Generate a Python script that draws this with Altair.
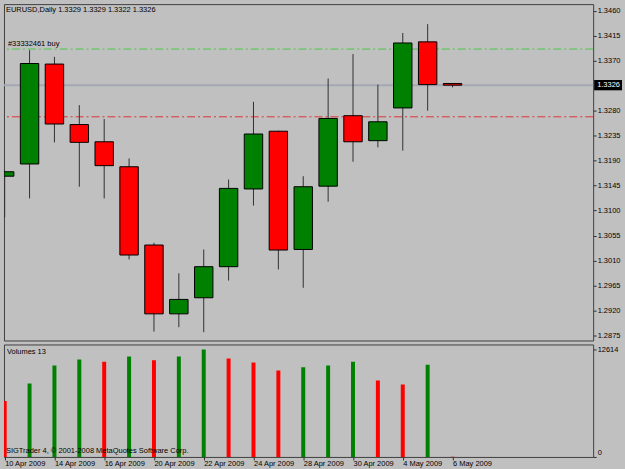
import json
import altair as alt
import pandas as pd

# ---- data ----
dates = ["10 Apr 2009", "13 Apr 2009", "14 Apr 2009", "15 Apr 2009", "16 Apr 2009",
         "17 Apr 2009", "20 Apr 2009", "21 Apr 2009", "22 Apr 2009", "23 Apr 2009",
         "24 Apr 2009", "27 Apr 2009", "28 Apr 2009", "29 Apr 2009", "30 Apr 2009",
         "1 May 2009", "4 May 2009", "5 May 2009", "6 May 2009"]
opens  = [1.3162, 1.3184, 1.3364, 1.3255, 1.3224, 1.3179, 1.3038, 1.2914, 1.2943, 1.2999,
          1.3139, 1.3243, 1.3030, 1.3144, 1.3271, 1.3226, 1.3285, 1.3404, 1.3329]
highs  = [1.3172, 1.3389, 1.3377, 1.3290, 1.3265, 1.3194, 1.3042, 1.2987, 1.3030, 1.3156,
          1.3296, 1.3244, 1.3162, 1.3338, 1.3382, 1.3327, 1.3420, 1.3436, 1.3329]
lows   = [1.3088, 1.3122, 1.3223, 1.3143, 1.3122, 1.3012, 1.2882, 1.2890, 1.2881, 1.2974,
          1.3109, 1.2994, 1.2961, 1.3116, 1.3188, 1.3214, 1.3208, 1.3280, 1.3322]
closes = [1.3170, 1.3365, 1.3256, 1.3223, 1.3181, 1.3020, 1.2914, 1.2940, 1.2999, 1.3140,
          1.3238, 1.3029, 1.3143, 1.3266, 1.3224, 1.3260, 1.3402, 1.3327, 1.3326]
volumes = [6570, 8610, 10730, 11440, 11165, 11790, 11355, 11790, 12614, 11555,
           11085, 10140, 10530, 10730, 11165, 8960, 8490, 10810, 13]

price_ticks = [1.2875, 1.2920, 1.2965, 1.3010, 1.3055, 1.3100, 1.3145, 1.3190,
               1.3235, 1.3280, 1.3370, 1.3415, 1.3460]
bid_price = 1.3326
buy_level = 1.3391
stop_level = 1.3269
title_text = "EURUSD,Daily  1.3329 1.3329 1.3322 1.3326"
order_text = "#33332461 buy"
copyright_text = "SIGTrader 4, © 2001-2008 MetaQuotes Software Corp."

FONT = "Liberation Sans"
FS = 7.5
GREEN = "#008000"
RED = "#FF0000"

rows = []
for i in range(len(dates)):
    rows.append({
        "idx": i, "date": dates[i], "open": opens[i], "high": highs[i],
        "low": lows[i], "close": closes[i], "volume": volumes[i],
        "up": closes[i] >= opens[i],
        "vol_up": i > 0 and volumes[i] > volumes[i - 1],
    })
df = pd.DataFrame(rows)

levels = pd.DataFrame({
    "price": [buy_level, stop_level, bid_price],
    "kind": ["buy", "stop", "bid"],
})

PANEL_W = 592
x_scale = alt.Scale(domain=[-0.028, -0.028 + PANEL_W / 25.0], nice=False, zero=False, clamp=True)
y_scale = alt.Scale(domain=[1.2866, 1.3472], nice=False, zero=False)

price_axis = alt.Axis(orient="right", values=price_ticks, format=".4f", title=None,
                      grid=False, domain=False, tickSize=3, tickColor="#303030",
                      labelPadding=1, labelFont=FONT, labelFontSize=FS,
                      labelColor="black", minExtent=29, maxExtent=29,
                      labelOverlap=False)


def PY(field):
    return alt.Y(field, scale=y_scale, axis=price_axis)


X = alt.X("idx:Q", scale=x_scale, axis=None)

base = alt.Chart(df)

buy_line = alt.Chart(levels).transform_filter(alt.datum.kind == "buy").mark_rule(
    color="#46C846", strokeWidth=1, strokeDash=[8, 3, 2, 3]
).encode(y=PY("price:Q"))
stop_line = alt.Chart(levels).transform_filter(alt.datum.kind == "stop").mark_rule(
    color="#E03232", strokeWidth=1, strokeDash=[8, 3, 2, 3]
).encode(y=PY("price:Q"))
bid_line = alt.Chart(levels).transform_filter(alt.datum.kind == "bid").mark_rule(
    color="#A4A8B2", strokeWidth=2
).encode(y=PY("price:Q"))

wicks = base.mark_rule(color="#303030", strokeWidth=1, clip=True).encode(
    x=X, y=PY("low:Q"), y2="high:Q",
)

bodies = base.transform_calculate(
    xl="datum.idx - 0.37", xr="datum.idx + 0.37"
).mark_rect(stroke="black", strokeWidth=1, clip=True).encode(
    x=alt.X("xl:Q", scale=x_scale, axis=None),
    x2="xr:Q",
    y=PY("open:Q"),
    y2="close:Q",
    fill=alt.condition(alt.datum.up, alt.value(GREEN), alt.value(RED)),
)

title_mark = alt.Chart(pd.DataFrame({"t": [title_text]})).mark_text(
    align="left", baseline="middle", font=FONT, fontSize=FS, color="black"
).encode(x=alt.value(2), y=alt.value(6), text="t:N")

order_label = alt.Chart(levels).transform_filter(alt.datum.kind == "buy").transform_calculate(
    t=f"'{order_text}'"
).mark_text(
    align="left", baseline="middle", dy=-5, font=FONT, fontSize=FS, color="black"
).encode(x=alt.value(4), y=PY("price:Q"), text="t:N")

bid_box = alt.Chart(levels).transform_filter(alt.datum.kind == "bid").mark_point(
    shape="M-1,-0.37L1,-0.37L1,0.37L-1,0.37Z", filled=True, fill="black",
    opacity=1, size=784, clip=False
).encode(x=alt.value(607), y=PY("price:Q"))

bid_text = alt.Chart(levels).transform_filter(alt.datum.kind == "bid").mark_text(
    align="left", baseline="middle", font=FONT, fontSize=FS, color="white"
).encode(x=alt.value(596), y=PY("price:Q"),
         text=alt.Text("price:Q", format=".4f"))

main = alt.layer(
    buy_line, stop_line, bid_line, wicks, bodies, title_mark, order_label, bid_box, bid_text
).properties(width=PANEL_W, height=338)

# ---- volume panel ----
vmax = max(volumes)
v_scale = alt.Scale(domain=[0, vmax * 113 / 108], nice=False, zero=True)
label_expr = json.dumps(dates) + "[datum.value]"

vol_bars = base.transform_calculate(
    xl="datum.idx - 0.08", xr="datum.idx + 0.08"
).mark_rect(clip=True).encode(
    x=alt.X("xl:Q", scale=x_scale,
            axis=alt.Axis(values=list(range(0, len(dates), 2)), labelExpr=label_expr,
                          title=None, grid=False, domain=False, tickSize=3,
                          tickColor="#303030", labelAlign="left", labelBaseline="top",
                          labelPadding=0, labelFont=FONT, labelFontSize=FS,
                          labelColor="black", labelOverlap=False, labelFlush=False,
                          minExtent=14, maxExtent=14)),
    x2="xr:Q",
    y=alt.Y("volume:Q", scale=v_scale,
            axis=alt.Axis(orient="right", values=[0, vmax], format="d", title=None,
                          grid=False, domain=False, tickSize=3, tickColor="#303030",
                          labelPadding=1, labelFont=FONT, labelFontSize=FS,
                          labelColor="black", labelFlush=True, labelOverlap=False,
                          minExtent=29, maxExtent=29)),
    y2=alt.datum(0),
    fill=alt.condition(alt.datum.vol_up, alt.value(GREEN), alt.value(RED)),
)

vol_title = alt.Chart(pd.DataFrame({"t": [f"Volumes {volumes[-1]}"]})).mark_text(
    align="left", baseline="middle", font=FONT, fontSize=FS, color="black"
).encode(x=alt.value(3), y=alt.value(8), text="t:N")

copyright_mark = alt.Chart(pd.DataFrame({"t": [copyright_text]})).mark_text(
    align="left", baseline="middle", font=FONT, fontSize=FS, color="black"
).encode(x=alt.value(2), y=alt.value(107), text="t:N")

volume = alt.layer(vol_bars, vol_title, copyright_mark).properties(width=PANEL_W, height=113)

chart = alt.vconcat(main, volume, spacing=2).properties(
    padding={"left": 2, "top": 2, "right": 2, "bottom": 0},
    background="#C0C0C0",
).configure_view(
    stroke="#404040", strokeWidth=1
).configure_axis(
    labelOverlap=False
).configure_concat(spacing=2)

chart.save("out.html", embed_options={"renderer": "svg", "actions": False})
